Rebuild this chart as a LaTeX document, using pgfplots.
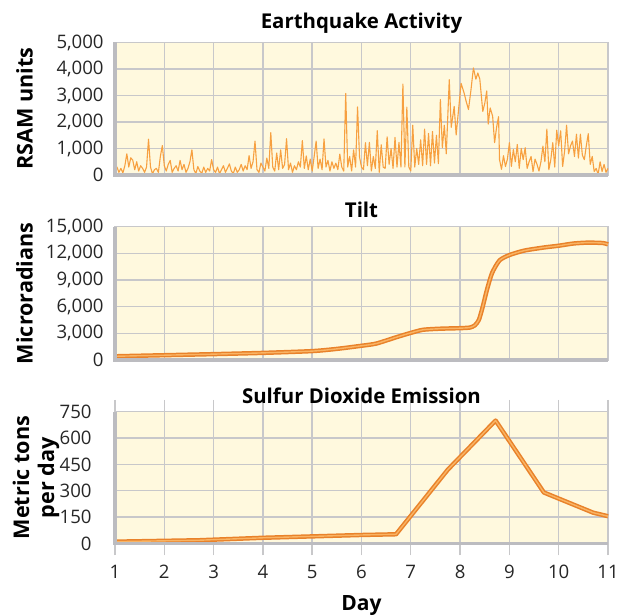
\documentclass[border=0pt]{standalone}
\usepackage{fontspec}
\setmainfont{Open Sans}
\usepackage{pgfplots}
\pgfplotsset{compat=1.18}
\usepackage{pgfplotstable}

\definecolor{panel}{RGB}{255,249,222}
\definecolor{gridgray}{RGB}{200,200,202}
\definecolor{framegray}{RGB}{188,188,192}
\definecolor{quake}{RGB}{247,160,64}
\definecolor{lineor}{RGB}{233,130,42}
\definecolor{linelight}{RGB}{249,180,100}

% RSAM readings, day vs units
\pgfplotstableread{
day rsam
1.00 150
1.04 300
1.08 100
1.12 250
1.16 80
1.20 350
1.24 800
1.28 300
1.32 650
1.36 560
1.40 200
1.44 500
1.48 150
1.52 350
1.56 250
1.60 100
1.64 300
1.68 1350
1.72 300
1.76 50
1.80 200
1.84 250
1.88 100
1.92 700
1.96 1110
2.00 350
2.04 150
2.08 400
2.12 550
2.16 100
2.20 250
2.24 350
2.28 150
2.32 550
2.36 200
2.40 400
2.44 100
2.48 250
2.52 500
2.56 950
2.60 200
2.64 50
2.68 320
2.72 150
2.76 60
2.80 300
2.84 100
2.88 250
2.92 150
2.96 580
3.00 200
3.04 100
3.08 300
3.12 50
3.16 200
3.20 350
3.24 100
3.28 250
3.32 420
3.36 150
3.40 50
3.44 300
3.48 100
3.52 200
3.56 400
3.60 150
3.64 350
3.68 200
3.72 730
3.76 250
3.80 500
3.84 1280
3.88 200
3.92 100
3.96 450
4.00 300
4.04 150
4.08 640
4.12 250
4.16 1600
4.20 300
4.24 150
4.28 830
4.32 200
4.36 950
4.40 250
4.44 400
4.48 1370
4.52 200
4.56 450
4.60 100
4.64 350
4.68 200
4.72 500
4.76 300
4.80 1300
4.84 250
4.88 720
4.92 200
4.96 600
5.00 150
5.04 700
5.08 1280
5.12 250
5.16 600
5.20 200
5.24 1360
5.28 300
5.32 550
5.36 150
5.40 500
5.44 250
5.48 450
5.52 200
5.56 790
5.60 300
5.64 150
5.68 3080
5.72 300
5.76 700
5.80 150
5.84 950
5.88 300
5.92 2570
5.96 680
6.00 300
6.04 200
6.08 1220
6.12 350
6.16 1230
6.20 150
6.24 700
6.28 250
6.32 1670
6.36 100
6.40 1140
6.44 300
6.48 250
6.52 1440
6.56 400
6.60 1000
6.64 250
6.68 1420
6.72 300
6.76 1230
6.80 300
6.84 3430
6.88 300
6.92 2560
6.96 300
7.00 150
7.04 1880
7.08 300
7.12 1000
7.16 400
7.20 1330
7.24 350
7.28 1730
7.32 400
7.36 1570
7.40 350
7.44 1640
7.48 450
7.52 1500
7.56 430
7.60 2850
7.64 1030
7.68 1880
7.72 800
7.78 3600
7.82 1800
7.88 2590
7.92 1510
8.02 3460
8.08 3100
8.12 2800
8.17 2470
8.22 3200
8.27 4040
8.32 3615
8.36 3850
8.40 3615
8.46 2400
8.50 2700
8.54 3170
8.57 1920
8.61 2530
8.66 2220
8.70 1220
8.74 1800
8.78 2200
8.80 577
8.84 218
8.88 730
8.92 320
8.96 600
9.00 1220
9.04 320
9.08 960
9.12 500
9.16 1150
9.20 250
9.24 1000
9.28 580
9.32 1030
9.36 250
9.40 500
9.44 700
9.48 130
9.52 600
9.56 400
9.60 150
9.64 500
9.68 1090
9.72 500
9.76 1730
9.80 200
9.84 580
9.88 1220
9.92 300
9.96 1690
10.00 1100
10.04 1670
10.08 320
10.12 900
10.16 1880
10.20 800
10.24 1100
10.28 1280
10.32 700
10.36 1540
10.40 640
10.44 1540
10.48 750
10.52 580
10.56 1100
10.60 1560
10.64 400
10.68 700
10.72 130
10.76 250
10.80 30
10.84 500
10.88 130
10.92 400
10.96 100
11.00 250
}\quaketable

\pgfplotstableread{
day tilt
1.0 420
2.0 540
3.0 660
4.0 800
5.0 1000
5.5 1250
6.0 1600
6.3 1850
6.7 2550
7.0 3050
7.25 3400
7.6 3520
8.0 3580
8.2 3650
8.3 3900
8.38 4500
8.45 5800
8.55 8000
8.65 9800
8.8 11200
9.0 11800
9.3 12300
9.7 12650
10.0 12850
10.3 13100
10.6 13200
10.9 13150
11.0 13000
}\tilttable

\pgfplotstableread{
day so2
1.0 10
2.7 18
4.0 32
5.0 40
6.0 48
6.7 52
7.75 420
8.72 700
9.7 290
10.7 175
11.0 155
}\sotable

\tikzset{frame/.style={framegray, line width=1.75pt}}

\pgfplotsset{
  panel/.style={
    scale only axis, width=246.5pt,
    xmin=1, xmax=11, ymin=0,
    xtick={1,...,11},
    grid=major,
    major grid style={gridgray, line width=0.7pt},
    axis line style={gridgray, line width=0.6pt},
    axis background/.style={fill=panel},
    tick style={draw=none},
    clip=false,
    scaled y ticks=false,
    /pgf/number format/1000 sep={,},
    /pgf/number format/assume math mode=true,
    every tick label/.append style={font=\fontsize{9.3}{10}\selectfont, text=black!85},
    yticklabel style={inner sep=0pt, xshift=-5.5pt},
    title style={font=\bfseries\fontsize{10.2}{12}\selectfont, at={(0.5,1)}, anchor=base, inner sep=0pt},
    ylabel style={font=\bfseries\fontsize{10.8}{14.5}\selectfont, anchor=center, inner sep=0pt, align=center},
  },
}

\begin{document}
\begin{tikzpicture}
\path (0,0) rectangle (314.5pt,-306.5pt);

% Earthquake activity
\begin{axis}[panel, at={(57.5pt,-87.5pt)}, anchor=south west, height=66.25pt,
  ymax=5000, ytick={0,1000,...,5000}, xticklabels={},
  title={Earthquake Activity}, title style={yshift=1pt},
  ylabel={RSAM units}, ylabel style={at={(axis description cs:-0.1836,0.5)}}]
\addplot[quake, line width=0.55pt, line join=round] table[x=day, y=rsam] {\quaketable};
\draw[frame] (rel axis cs:0,1) -- (rel axis cs:0,0) -- (rel axis cs:1,0);
\end{axis}

% Tilt
\begin{axis}[panel, at={(57.5pt,-180pt)}, anchor=south west, height=66.7pt,
  ymax=15000, ytick={0,3000,...,15000}, xticklabels={},
  title={Tilt}, title style={yshift=-1.2pt},
  ylabel={Microradians}, ylabel style={at={(axis description cs:-0.1836,0.5)}}]
\addplot[lineor, line width=2.2pt, smooth, tension=0.4] table[x=day, y=tilt] {\tilttable};
\addplot[linelight, line width=0.7pt, smooth, tension=0.4] table[x=day, y=tilt] {\tilttable};
\draw[frame] (rel axis cs:0,1) -- (rel axis cs:0,0) -- (rel axis cs:1,0);
\end{axis}

% Sulfur dioxide
\begin{axis}[panel, at={(57.5pt,-271.7pt)}, anchor=south west, height=65.8pt,
  ymax=750, ytick={0,150,...,750},
  xtick style={draw=gridgray, line width=0.7pt}, tick align=outside, major tick length=6pt,
  xticklabel style={anchor=north, inner sep=0pt, yshift=-4.85pt},
  title={Sulfur Dioxide Emission}, title style={yshift=-2pt},
  ylabel={Metric tons\\[-2pt]per day}, ylabel style={at={(axis description cs:-0.1602,0.5)}},
  xlabel={Day}, xlabel style={font=\bfseries\fontsize{10.5}{12}\selectfont, at={(axis description cs:0.5,0)}, anchor=north, inner sep=0pt, yshift=-25.85pt}]
\addplot[lineor, line width=2.2pt, line join=round] table[x=day, y=so2] {\sotable};
\addplot[linelight, line width=0.7pt, line join=round] table[x=day, y=so2] {\sotable};
\draw[frame] (rel axis cs:0,1) -- (rel axis cs:0,0) -- (rel axis cs:1,0);
\end{axis}
\end{tikzpicture}
\end{document}
